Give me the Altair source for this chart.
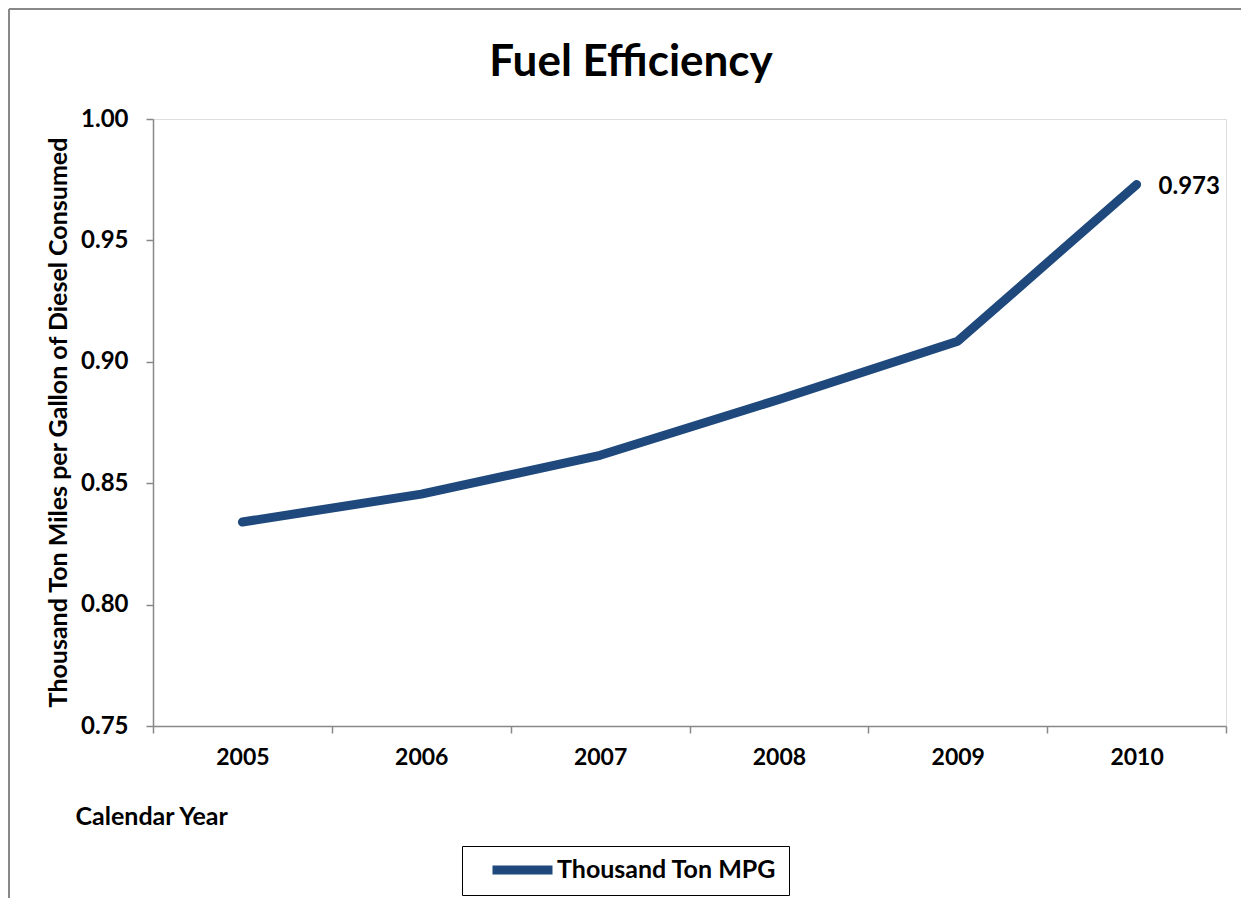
import altair as alt
import pandas as pd

years = ["2005", "2006", "2007", "2008", "2009", "2010"]
mpg = [0.834, 0.8455, 0.8615, 0.8845, 0.9085, 0.973]
series_name = "Thousand Ton MPG"
last_label = ["", "", "", "", "", "0.973"]
chart_title = ["Fuel Efficiency"]

df = pd.DataFrame({"year": years, "mpg": mpg, "series": series_name, "label": last_label})

FONT = "Lato"
BLUE = "#1F497D"

x_enc = alt.X(
    "year:O",
    scale=alt.Scale(type="band", paddingInner=0, paddingOuter=0),
    bandPosition=0.5,
    axis=alt.Axis(
        title="Calendar Year",
        titleAnchor="start",
        titleAlign="left",
        titleBaseline="middle",
        titleX=-78,
        titleY=90,
        titleAngle=0,
        titleFont=FONT,
        titleFontSize=25,
        titleFontWeight="bold",
        titleColor="black",
        labelAngle=0,
        labelFont=FONT,
        labelFontSize=23,
        labelFontWeight="bold",
        labelColor="black",
        labelPadding=13,
        tickBand="extent",
        tickSize=7,
        tickColor="#888888",
        domainColor="#888888",
        domainWidth=1.5,
        tickWidth=1.5,
        grid=False,
    ),
)

y_enc = alt.Y(
    "mpg:Q",
    scale=alt.Scale(domain=[0.75, 1.0], nice=False, zero=False),
    axis=alt.Axis(
        title="Thousand Ton Miles per Gallon of Diesel Consumed",
        values=[0.75, 0.80, 0.85, 0.90, 0.95, 1.00],
        format=".2f",
        titleFont=FONT,
        titleFontSize=25,
        titleFontWeight="bold",
        titleColor="black",
        titleX=-95,
        titleY=303,
        titleAngle=-90,
        titleAlign="center",
        titleBaseline="middle",
        labelFont=FONT,
        labelFontSize=24,
        labelFontWeight="bold",
        labelColor="black",
        labelPadding=18,
        tickSize=7,
        tickColor="#888888",
        domainColor="#888888",
        domainWidth=1.5,
        tickWidth=1.5,
        grid=False,
    ),
)

line = alt.Chart(df).mark_line(strokeWidth=9, strokeCap="round", strokeJoin="round").encode(
    x=x_enc,
    y=y_enc,
    color=alt.Color(
        "series:N",
        scale=alt.Scale(range=[BLUE]),
        legend=alt.Legend(
            title=None,
            orient="none",
            legendX=309,
            legendY=727,
            symbolType="stroke",
            symbolSize=3600,
            symbolStrokeWidth=9,
            symbolOffset=14,
            clipHeight=24,
            labelFont=FONT,
            labelFontSize=25,
            labelFontWeight="bold",
            labelColor="black",
            labelOffset=0,
            labelLimit=500,
            strokeColor="black",
            padding=12,
        ),
    ),
)

text = alt.Chart(df).transform_filter(alt.datum.label != "").mark_text(
    align="left", baseline="middle", dx=22, dy=2, font=FONT, fontSize=24, fontWeight="bold", color="black"
).encode(x=x_enc, y=y_enc, text="label:N")

border_df = pd.DataFrame({"a": [0], "title": chart_title})
border_left = alt.Chart(border_df).mark_rule(color="#888888", strokeWidth=2).encode(
    x=alt.value(-144), y=alt.value(-110), y2=alt.value(900)
)
border_top = alt.Chart(border_df).mark_rule(color="#888888", strokeWidth=2).encode(
    x=alt.value(-144), x2=alt.value(1200), y=alt.value(-110)
)
title_mark = alt.Chart(border_df).mark_text(
    font=FONT, fontSize=44, fontWeight="bold", color="black", align="center", baseline="alphabetic"
).encode(x=alt.value(478), y=alt.value(-43), text="title:N")

chart = (
    alt.layer(border_left, border_top, title_mark, line, text)
    .properties(
        width=1073,
        height=607,
        padding={"left": 145, "top": 111, "right": 15, "bottom": 172},
        autosize=alt.AutoSizeParams(type="none"),
    )
    .configure_view(stroke="transparent", strokeWidth=0)
    .configure(background="white")
)

chart.save("out.html", embed_options={"renderer": "svg", "actions": False})
